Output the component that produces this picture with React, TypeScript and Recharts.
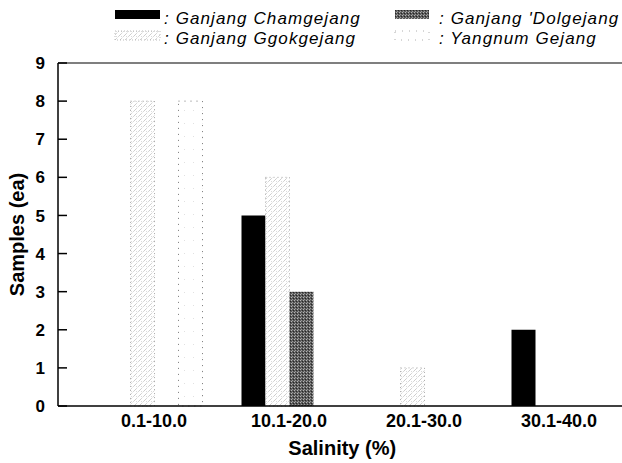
import { BarChart, Bar, XAxis, YAxis, CartesianGrid } from 'recharts'

const categories = ['0.1-10.0', '10.1-20.0', '20.1-30.0', '30.1-40.0']
const chamgejang = [0, 5, 0, 2]
const ggokgejang = [8, 6, 1, 0]
const dolgejang = [0, 3, 0, 0]
const yangnum = [8, 0, 0, 0]
const yTicks = [0, 1, 2, 3, 4, 5, 6, 7, 8, 9]

const seriesNames = {
  chamgejang: 'Ganjang Chamgejang',
  dolgejang: "Ganjang 'Dolgejang",
  ggokgejang: 'Ganjang Ggokgejang',
  yangnum: 'Yangnum Gejang',
}

const data = categories.map((name, i) => ({
  name,
  chamgejang: chamgejang[i],
  ggokgejang: ggokgejang[i],
  dolgejang: dolgejang[i],
  yangnum: yangnum[i],
}))

const FONT = '"Liberation Sans", Arial, sans-serif'

// inward tick marks on the y axis, like the original figure
const YTick = ({ x, y, payload }: { x: number; y: number; payload: { value: number } }) => (
  <g>
    <line x1={x + 13} x2={x + 22} y1={y} y2={y} stroke="#000" strokeWidth={1.5} />
    <text x={x} y={y} dy="0.36em" textAnchor="end" fontFamily={FONT} fontWeight="bold" fontSize={17} fill="#000">
      {payload.value}
    </text>
  </g>
)

const YLabel = ({ viewBox }: { viewBox?: { x: number; y: number; height: number } }) => {
  if (!viewBox) return null
  const cx = 17
  const cy = viewBox.y + viewBox.height / 2
  return (
    <text
      x={cx}
      y={cy}
      transform={`rotate(-90, ${cx}, ${cy})`}
      textAnchor="middle"
      dy="0.36em"
      fontFamily={FONT}
      fontWeight="bold"
      fontSize={20}
      fill="#000"
    >
      Samples (ea)
    </text>
  )
}

function Patterns() {
  return (
    <defs>
      <pattern id="patGgok" width="5" height="5" patternUnits="userSpaceOnUse">
        <rect width="5" height="5" fill="#fff" />
        <path d="M0,5 L5,0" stroke="#9a9a9a" strokeWidth="0.7" strokeDasharray="1 1" />
        <rect x="1" y="1" width="0.8" height="0.8" fill="#c8c8c8" />
      </pattern>
      <pattern id="patDol" width="3" height="3" patternUnits="userSpaceOnUse">
        <rect width="3" height="3" fill="#5a5a5a" />
        <rect x="0" y="0" width="1" height="1" fill="#b5b5b5" />
        <rect x="2" y="1" width="1" height="1" fill="#262626" />
        <rect x="1" y="2" width="1" height="1" fill="#9a9a9a" />
      </pattern>
      <pattern id="patYang" width="9" height="13" patternUnits="userSpaceOnUse">
        <rect width="9" height="13" fill="#fff" />
        <rect x="4" y="6" width="0.8" height="0.8" fill="#d0d0d0" />
      </pattern>
    </defs>
  )
}

function LegendBox() {
  const textProps = {
    fontFamily: FONT,
    fontStyle: 'italic' as const,
    fontSize: 17,
    letterSpacing: 1.1,
    fill: '#000',
  }
  return (
    <svg width={622} height={55} style={{ position: 'absolute', left: 0, top: 0 }}>
      <rect x={115} y={10} width={45} height={9} fill="#000" />
      <text x={164} y={24} {...textProps}>: {seriesNames.chamgejang}</text>
      <rect x={395} y={10} width={34} height={9} fill="url(#patDol)" />
      <text x={439} y={24} {...textProps}>: {seriesNames.dolgejang}</text>
      <rect x={115} y={31} width={45} height={9} fill="url(#patGgok)" stroke="#aaa" strokeWidth={0.8} strokeDasharray="1 2" />
      <text x={164} y={44} {...textProps}>: {seriesNames.ggokgejang}</text>
      <rect x={395} y={31} width={34} height={9} fill="#fff" stroke="#999" strokeWidth={0.8} strokeDasharray="1 6" />
      <text x={439} y={44} {...textProps}>: {seriesNames.yangnum}</text>
    </svg>
  )
}

export default function App() {
  return (
    <div style={{ position: 'fixed', left: 0, top: 0, width: 622, height: 463, overflow: 'hidden', background: '#fff' }}>
      <BarChart
        width={640}
        height={463}
        data={data}
        margin={{ top: 63, right: 13.5, left: 0, bottom: 0 }}
        barGap={0}
        barSize={24}
      >
        <Patterns />
        <CartesianGrid horizontalPoints={[63]} vertical={false} stroke="#000" strokeWidth={1.2} />
        <XAxis
          dataKey="name"
          padding={{ left: 28.5, right: 0 }}
          height={57}
          tickLine={false}
          axisLine={{ stroke: '#000', strokeWidth: 1.5 }}
          tick={{ fontFamily: FONT, fontWeight: 'bold', fontSize: 18, fill: '#000' }}
          label={{
            value: 'Salinity (%)',
            position: 'insideBottom',
            offset: 8,
            style: { fontFamily: FONT, fontWeight: 'bold', fontSize: 20, fill: '#000' },
          }}
        />
        <YAxis
          width={58}
          domain={[0, 9]}
          ticks={yTicks}
          interval={0}
          tickSize={0}
          tickMargin={13}
          tick={YTick}
          axisLine={{ stroke: '#000', strokeWidth: 1.5 }}
          label={<YLabel />}
        />
        <Bar dataKey="chamgejang" name={seriesNames.chamgejang} fill="#000" isAnimationActive={false} />
        <Bar
          dataKey="ggokgejang"
          name={seriesNames.ggokgejang}
          fill="url(#patGgok)"
          stroke="#a8a8a8"
          strokeWidth={1}
          strokeDasharray="1 3"
          isAnimationActive={false}
        />
        <Bar dataKey="dolgejang" name={seriesNames.dolgejang} fill="url(#patDol)" isAnimationActive={false} />
        <Bar
          dataKey="yangnum"
          name={seriesNames.yangnum}
          fill="url(#patYang)"
          stroke="#777"
          strokeWidth={1}
          strokeDasharray="1 5"
          isAnimationActive={false}
        />
      </BarChart>
      <LegendBox />
    </div>
  )
}
